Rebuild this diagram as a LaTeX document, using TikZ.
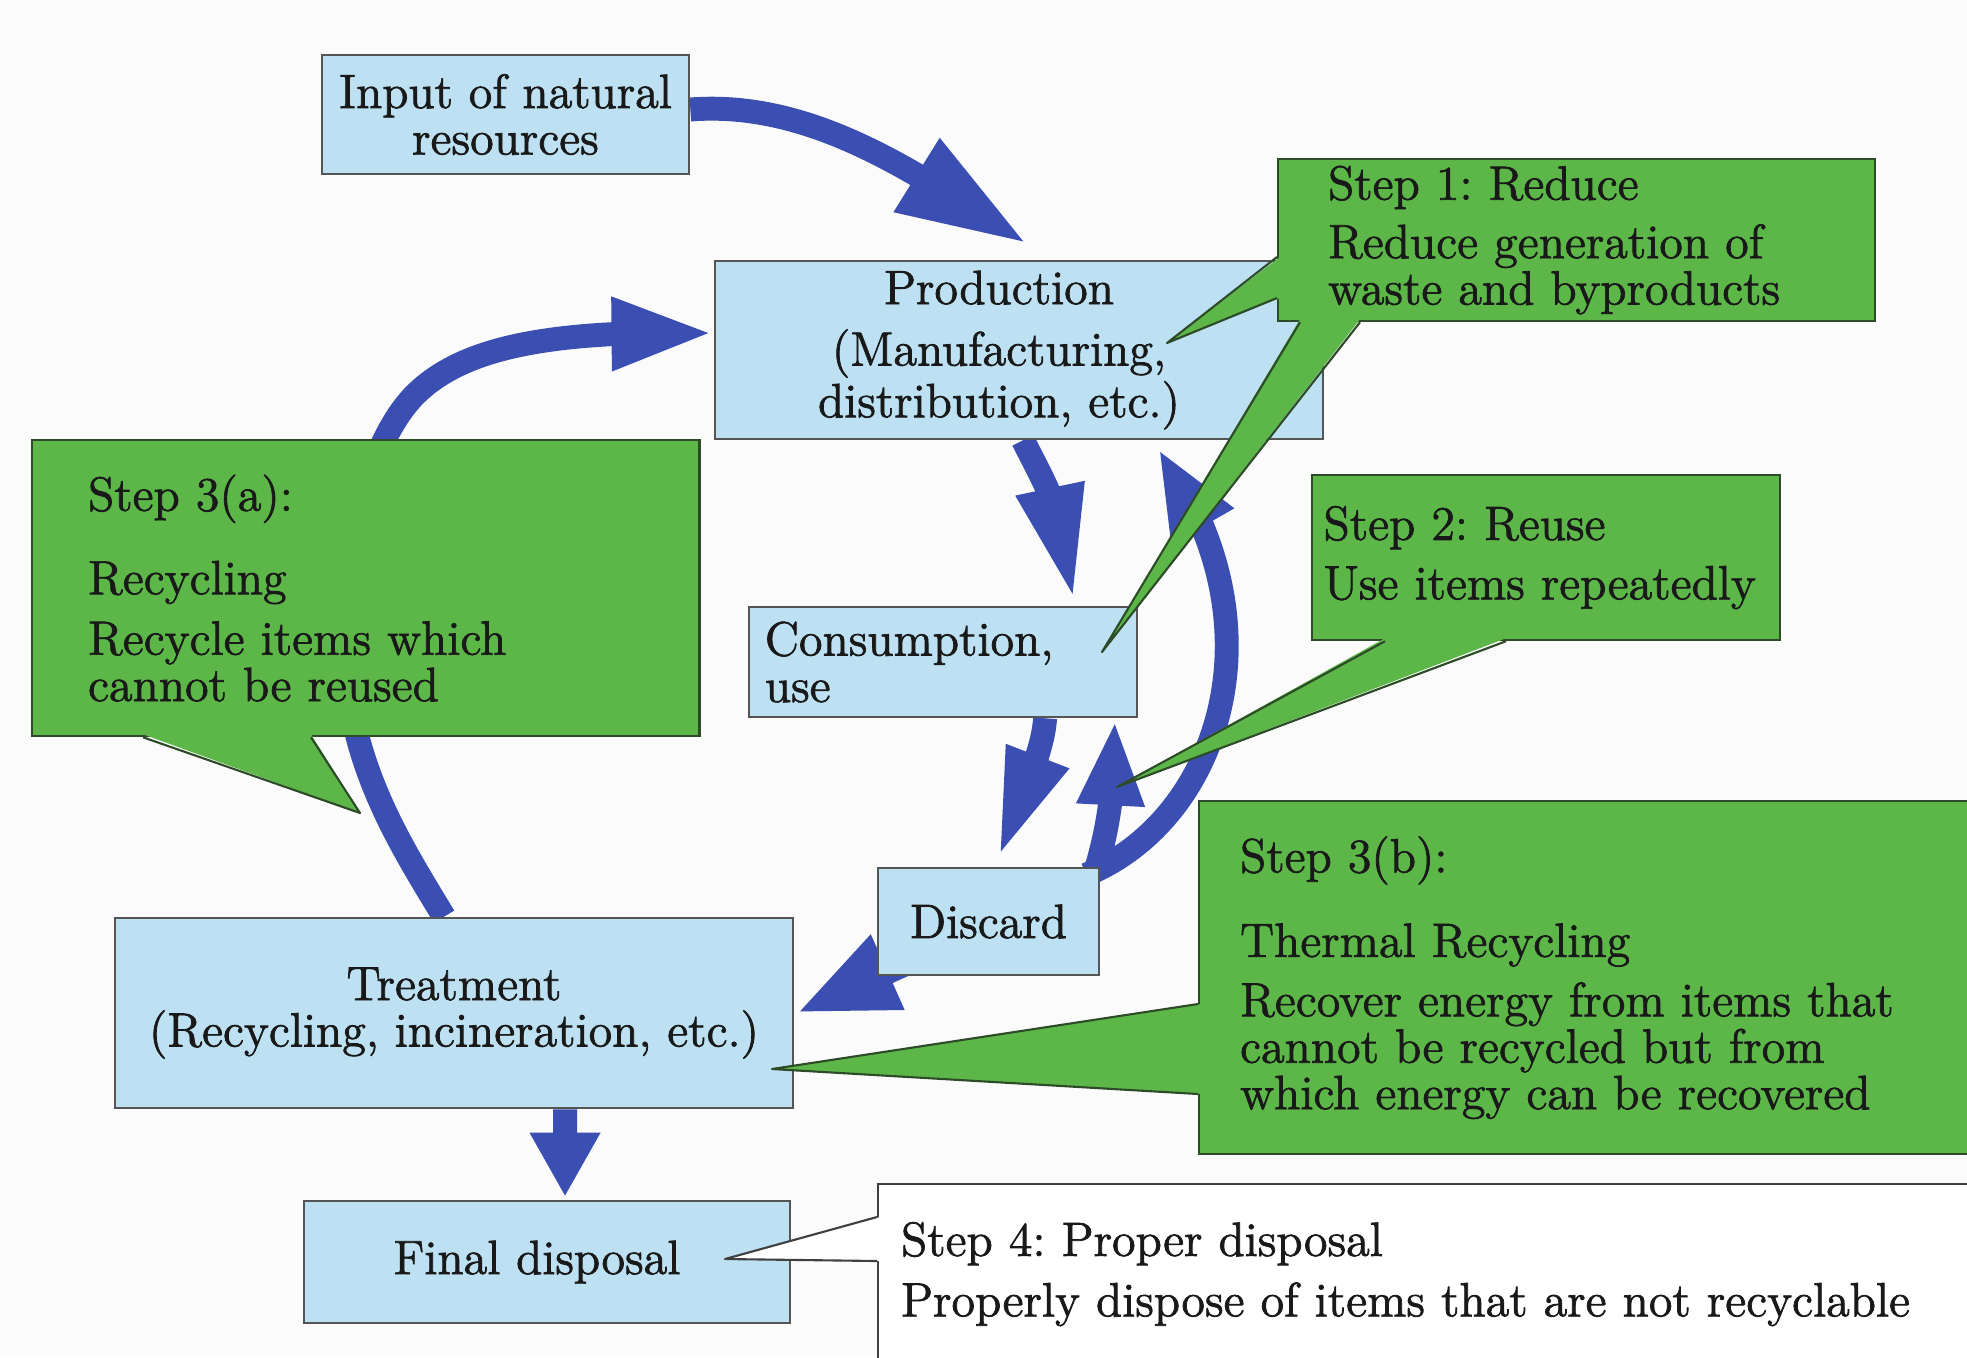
\documentclass[tikz,border=0pt]{standalone}
\usepackage{fontspec}
\usepackage{tikz}
\usetikzlibrary{arrows.meta,bending,calc,backgrounds,positioning}

\newfontfamily\labelfont{Latin Modern Roman}[FakeBold=1.5]

\definecolor{boxblue}{RGB}{189,225,242}
\definecolor{boxedge}{RGB}{85,85,85}
\definecolor{stepgreen}{RGB}{92,183,72}
\definecolor{stepedge}{RGB}{45,75,40}
\definecolor{flowblue}{RGB}{59,79,178}
\definecolor{paper}{RGB}{251,251,251}

\begin{document}
\begin{tikzpicture}[x=0.01cm, y=-0.01cm,
  txt/.style={font=\labelfont\fontsize{13.7}{13.2}\selectfont\frenchspacing, text=black!90},
  stage/.style={txt, rectangle, draw=boxedge, line width=0.7pt, fill=boxblue, inner sep=0pt, align=center},
  callout/.style={txt, rectangle, draw=stepedge, line width=0.6pt, fill=stepgreen, inner sep=0pt, align=left, anchor=north west},
  note/.style={callout, draw=black!75, fill=white},
  tipline/.style={draw=stepedge, line width=0.6pt, line join=round},
  flow/.style args={#1/#2}{draw=flowblue, line width=6.8pt, -{Triangle[length=#1, width=#2, flex]}}
]
\clip (0,0) rectangle (1967,1357);

% stages of the cycle
\node[stage, minimum width=3.67cm, minimum height=1.19cm] (input) at (505.5,114.5) {Input of natural\\resources};
\node[stage, minimum width=6.08cm, minimum height=1.78cm] (production) at (1019,350) {Production\rule{0.4cm}{0pt}\\[0.15cm](Manufacturing,\rule{0.4cm}{0pt}\\distribution, etc.)\rule{0.4cm}{0pt}};
\node[stage, minimum width=3.88cm, minimum height=1.10cm, text width=3.56cm, align=left] (consumption) at (943,662) {Consumption,\\use};
\node[stage, minimum width=2.21cm, minimum height=1.07cm] (discard) at (988.5,921.5) {Discard};
\node[stage, minimum width=6.78cm, minimum height=1.90cm] (treatment) at (454,1013) {Treatment\\(Recycling, incineration, etc.)};
\node[stage, minimum width=4.86cm, minimum height=1.22cm] (final) at (547,1262) {Final disposal\rule{0.2cm}{0pt}};

% steps
\node[callout, minimum width=5.97cm, minimum height=1.62cm, text width=4.97cm] (step1) at (1277,158) {Step 1: Reduce\\[0.12cm]Reduce generation of\\waste and byproducts};
\node[callout, minimum width=4.68cm, minimum height=1.65cm, text width=4.45cm] (step2) at (1311,474) {Step 2: Reuse\\[0.13cm]Use items repeatedly};
\node[callout, minimum width=6.67cm, minimum height=2.96cm, text width=5.55cm] (step3a) at (31,439) {Step 3(a):\\[0.37cm]Recycling\\[0.14cm]Recycle items which\\cannot be reused};
\node[callout, minimum width=8.12cm, minimum height=3.53cm, text width=7.30cm] (step3b) at (1198,800) {Step 3(b):\\[0.38cm]Thermal Recycling\\[0.13cm]Recover energy from items that\\cannot be recycled but from\\which energy can be recovered};
\node[note, minimum width=11.33cm, minimum height=1.80cm, text width=10.87cm] (step4) at (877,1183) {Step 4: Proper disposal\\[0.14cm]Properly dispose of items that are not recyclable};

% pointer tips
\coordinate (p1a) at (1167,343);
\coordinate (p1b) at (1102,652);
\coordinate (p2) at (1117,787);
\coordinate (p3a) at (360,813);
\coordinate (p3b) at (772,1069);
\coordinate (p4) at (725,1259);

\fill[stepgreen] ($(step1.north west)+(3,99)$) -- (p1a) -- ($(step1.north west)+(3,140)$) -- cycle;
\draw[tipline] ($(step1.north west)+(0,99)$) -- (p1a) -- ($(step1.north west)+(0,140)$);
\fill[stepgreen] ($(step1.south west)+(23,-3)$) -- (p1b) -- ($(step1.south west)+(83,-3)$) -- cycle;
\draw[tipline] ($(step1.south west)+(23,0)$) -- (p1b) -- ($(step1.south west)+(83,0)$);

\fill[stepgreen] ($(step2.south west)+(74,-3)$) -- (p2) -- ($(step2.south west)+(195,-3)$) -- cycle;
\draw[tipline] ($(step2.south west)+(74,0)$) -- (p2) -- ($(step2.south west)+(195,0)$);

\fill[stepgreen] ($(step3a.south west)+(112,-3)$) -- (p3a) -- ($(step3a.south west)+(280,-3)$) -- cycle;
\draw[tipline] ($(step3a.south west)+(112,0)$) -- (p3a) -- ($(step3a.south west)+(280,0)$);

\fill[stepgreen] ($(step3b.north west)+(3,204)$) -- (p3b) -- ($(step3b.north west)+(3,294)$) -- cycle;
\draw[tipline] ($(step3b.north west)+(0,204)$) -- (p3b) -- ($(step3b.north west)+(0,294)$);

\fill[white] ($(step4.north west)+(3,34)$) -- (p4) -- ($(step4.north west)+(3,78)$) -- cycle;
\draw[tipline, draw=black!75] ($(step4.north west)+(0,34)$) -- (p4) -- ($(step4.north west)+(0,78)$);

\begin{scope}[on background layer]
\fill[paper] (0,0) rectangle (1967,1357);
% material flow
\draw[flow={1.3cm/0.8cm}] ([yshift=0.05cm]input.east) .. controls +(130,-10) and +(-97,-60) .. ([shift={(8,-16)}]production.north);
\draw[flow={1.15cm/0.63cm}] ([xshift=0.04cm]production.south) .. controls +(20,40) and +(-5,-80) .. ([shift={(131,-5)}]consumption.north);
\draw[flow={1.1cm/0.6cm}] ([xshift=1.02cm]consumption.south) .. controls +(-2,35) and +(22,-60) .. ([shift={(9.5,-8)}]discard.north);
\draw[flow={1.0cm/0.75cm}] ([shift={(-28,18)}]discard.center) -- ([xshift=0.02cm]treatment.east);
\draw[flow={0.64cm/0.66cm}] ([xshift=1.11cm]treatment.south) -- ([shift={(18,-3)}]final.north);
% loops back
\draw[flow={0.9cm/0.65cm}] ([shift={(-14,8)}]discard.north east) .. controls +(135,-56) and +(127,173) .. ([shift={(139,8)}]production.south);
\draw[flow={0.85cm/0.62cm}] ([shift={(-5,5)}]discard.north east) .. controls +(12,-40) and +(0,70) .. ([shift={(172,2)}]consumption.south);
\draw[flow={1.02cm/0.67cm}] ([xshift=-0.1cm]treatment.north) .. controls +(-44,-73) and +(0,120) .. (345,640) .. controls +(0,-110) and +(-45,40) .. (420,390) .. controls +(50,-45) and +(-155,-3) .. ([yshift=0.17cm]production.west);
\end{scope}

\end{tikzpicture}
\end{document}
